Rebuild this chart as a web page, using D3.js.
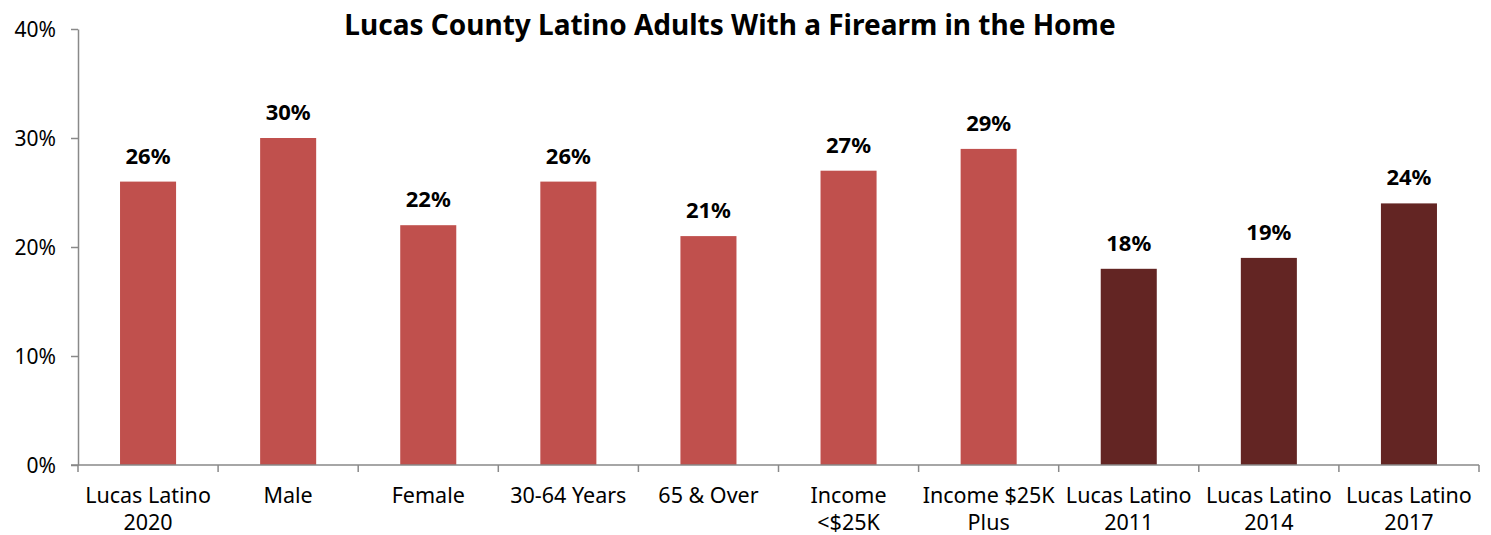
<!DOCTYPE html>
<html><head><meta charset="utf-8">
<script src="https://cdn.jsdelivr.net/npm/d3@7/dist/d3.min.js"></script>
<style>body{margin:0;background:#fff}svg{display:block}</style>
</head><body>
<svg id="c" width="1491" height="535"></svg>
<script>
const categories = [["Lucas Latino","2020"],["Male"],["Female"],["30-64 Years"],["65 & Over"],["Income","<$25K"],["Income $25K","Plus"],["Lucas Latino","2011"],["Lucas Latino","2014"],["Lucas Latino","2017"]];
const values = [26,30,22,26,21,27,29,18,19,24];
const groups = ["current","current","current","current","current","current","current","trend","trend","trend"];
const yTicks = [0,10,20,30,40];
const title = "Lucas County Latino Adults With a Firearm in the Home";

const svg = d3.select("#c");
const font = "'Noto Sans', 'Open Sans', sans-serif";
const x = d3.scaleBand().domain(d3.range(categories.length)).range([78,1479]).paddingInner(0.6).paddingOuter(0.3);
const y = d3.scaleLinear().domain([0,40]).range([465,29]);
const color = {current:"#C0504D", trend:"#632523"};

// bars
svg.selectAll("rect.bar").data(values).join("rect")
  .attr("x",(d,i)=>x(i)).attr("width",x.bandwidth())
  .attr("y",d=>y(d)).attr("height",d=>y(0)-y(d))
  .attr("fill",(d,i)=>color[groups[i]]);

// y axis
const yAxis = svg.append("g").attr("transform","translate(78,0)")
  .call(d3.axisLeft(y).tickValues(yTicks).tickFormat(d=>d+"%").tickSize(7).tickSizeOuter(0));
yAxis.select(".domain").attr("stroke","#898989").attr("stroke-width",1.5);
yAxis.selectAll(".tick line").attr("stroke","#898989").attr("stroke-width",1.5);
yAxis.selectAll(".tick text").attr("font-family",font).attr("font-size",21).attr("fill","#000").attr("x",-22).attr("dy","0.35em");

// x axis
const bounds = d3.range(categories.length+1).map(i=>78+i*(1479-78)/categories.length);
const xg = svg.append("g");
xg.append("line").attr("x1",71).attr("x2",1479).attr("y1",465).attr("y2",465).attr("stroke","#898989").attr("stroke-width",1.5);
xg.selectAll("line.t").data(bounds).join("line").attr("class","t")
  .attr("x1",d=>d).attr("x2",d=>d).attr("y1",465).attr("y2",472).attr("stroke","#898989").attr("stroke-width",1.5);
const labs = xg.selectAll("text.cat").data(categories).join("text").attr("class","cat")
  .attr("font-family",font).attr("font-size",21.5).attr("text-anchor","middle").attr("fill","#000");
labs.each(function(d,i){
  const t=d3.select(this);
  d.forEach((line,j)=>t.append("tspan").attr("x",x(i)+x.bandwidth()/2).attr("y",503+j*27).text(line));
});

// data labels
svg.selectAll("text.val").data(values).join("text")
  .attr("x",(d,i)=>x(i)+x.bandwidth()/2).attr("y",d=>y(d)-18)
  .attr("text-anchor","middle").attr("font-family",font).attr("font-weight","bold").attr("font-size",22)
  .attr("fill","#000").text(d=>d+"%");

// title
svg.append("text").attr("x",730).attr("y",35).attr("text-anchor","middle")
  .attr("font-family",font).attr("font-weight","bold").attr("font-size",28).attr("fill","#000").text(title);
</script>
</body></html>
